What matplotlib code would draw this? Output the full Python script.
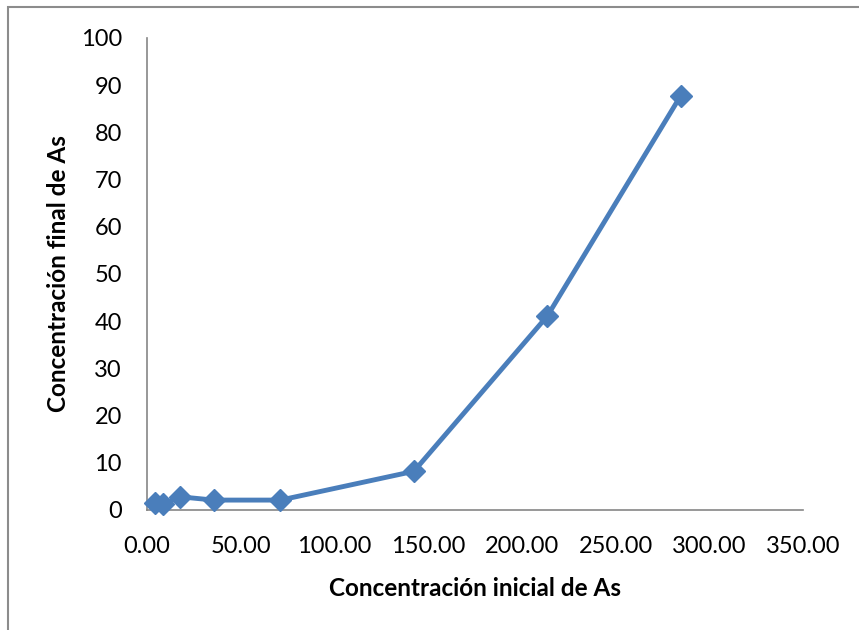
import numpy as np
import matplotlib.pyplot as plt
from matplotlib.patches import Rectangle

# concentraciones
conc_inicial = [4.3, 8.6, 17.6, 35.6, 71.2, 142.4, 213.6, 284.8]
conc_final = [1.4, 1.2, 2.8, 2.1, 2.1, 8.2, 41.1, 87.8]
x_ticks = [0, 50, 100, 150, 200, 250, 300, 350]
y_ticks = [0, 10, 20, 30, 40, 50, 60, 70, 80, 90, 100]

plt.rcParams['font.family'] = ['Lato', 'DejaVu Sans']

W, H = 859, 630
fig = plt.figure(figsize=(W / 100, H / 100), dpi=100)
ax = fig.add_axes([147 / W, 1 - 510 / H, (803 - 147) / W, (510 - 38) / H])

# marco del grafico (se corta a la derecha y abajo)
fig.patches.append(Rectangle((8 / W, -0.05), 1.1, 1 - 7 / H + 0.05,
                             transform=fig.transFigure, fill=False,
                             edgecolor='#8c8c8c', linewidth=1.5))

ax.plot(conc_inicial, conc_final, color='#4a7ebb', linewidth=3.5,
        marker='D', markersize=11.5, markerfacecolor='#4a7ebb',
        markeredgecolor='#4a7ebb', clip_on=False, zorder=3)

ax.set_xlim(0, 350)
ax.set_ylim(0, 100)
ax.set_xticks(x_ticks)
ax.set_xticklabels(['%.2f' % v for v in x_ticks])
ax.set_yticks(y_ticks)
ax.tick_params(length=0, labelsize=17, colors='black')
ax.tick_params(axis='x', pad=19)
ax.tick_params(axis='y', pad=18)

for s in ['top', 'right']:
    ax.spines[s].set_visible(False)
for s in ['left', 'bottom']:
    ax.spines[s].set_color('#868686')
    ax.spines[s].set_linewidth(1.2)

ax.set_xlabel('Concentración inicial de As', fontsize=17.5, fontweight='bold', labelpad=14)
ax.set_ylabel('Concentración final de As', fontsize=17.5, fontweight='bold', labelpad=8)

plt.savefig('out.png', dpi=100)
